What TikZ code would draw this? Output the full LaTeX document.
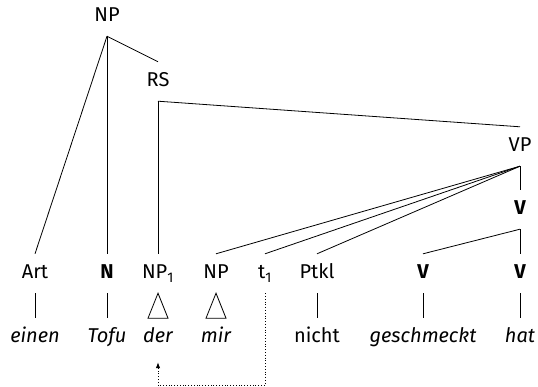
\documentclass[tikz,border=0pt]{standalone}
\usepackage{fontspec}
\setmainfont{Fira Sans}
\usetikzlibrary{arrows.meta}
\begin{document}
\begin{tikzpicture}[x=1pt,y=-1pt,
  lab/.style={inner sep=0pt, text height=25pt, text depth=14pt, anchor=base, font=\fontsize{20}{24}\selectfont},
  labbf/.style={lab, font=\fontsize{20}{24}\selectfont\bfseries},
  word/.style={lab, text height=24pt},
  wordit/.style={word, font=\fontsize{20}{24}\selectfont\itshape},
  edge/.style={line width=0.8pt},
  dotarrow/.style={line width=0.9pt, dash pattern=on 0.9pt off 1.9pt, -{Latex[length=6pt,width=4.5pt]}}]
\useasboundingbox (0,0) rectangle (538,387);
% upper nodes
\node[lab] (np) at (107,22) {NP};
\node[lab] (rs) at (158,87) {RS};
\node[lab] (vp) at (520,152) {VP};
\node[labbf] (v0) at (520,215) {V};
% category row
\node[lab] (art) at (35,279) {Art};
\node[labbf] (n) at (107,279) {N};
\node[lab] (np1) at (158,279) {NP\textsubscript{1}};
\node[lab] (np2) at (216,279) {NP};
\node[lab] (t1) at (265,279) {t\textsubscript{1}};
\node[lab] (ptkl) at (317,279) {Ptkl};
\node[labbf] (v1) at (423,279) {V};
\node[labbf] (v2) at (520,279) {V};
% word row
\node[wordit] (w1) at (35,342) {einen};
\node[wordit] (w2) at (107,342) {Tofu};
\node[wordit] (w3) at (158,342) {der};
\node[wordit] (w4) at (216,342) {mir};
\node[word] (w5) at (317,342) {nicht};
\node[wordit] (w6) at (423,342) {geschmeckt};
\node[wordit] (w7) at (520,342) {hat};
% edges
\draw[edge] (np.south) -- (art.north);
\draw[edge] (np.south) -- (n.north);
\draw[edge] (np.south) -- (rs.north);
\draw[edge] (rs.south) -- (np1.north);
\draw[edge] (rs.south) -- (vp.north);
\draw[edge] (vp.south) -- (np2.north);
\draw[edge] (vp.south) -- (t1.north);
\draw[edge] (vp.south) -- (ptkl.north);
\draw[edge] (vp.south) -- (v0.north);
\draw[edge] (v0.south) -- (v1.north);
\draw[edge] (v0.south) -- (v2.north);
\draw[edge] (art.south) -- (w1.north);
\draw[edge] (n.south) -- (w2.north);
\draw[edge] (np1.south) -- ++(-10,25) -- ++(20,0) -- cycle;
\draw[edge] (np2.south) -- ++(-10,25) -- ++(20,0) -- cycle;
\draw[edge] (ptkl.south) -- (w5.north);
\draw[edge] (v1.south) -- (w6.north);
\draw[edge] (v2.south) -- (w7.north);
% movement arrow
\draw[dotarrow] (t1.south) -- ++(0,92) -| ([yshift=-6pt]w3.south);
\end{tikzpicture}
\end{document}
